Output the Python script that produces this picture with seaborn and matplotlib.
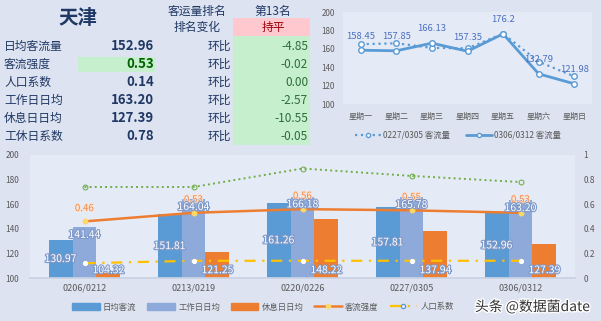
import matplotlib
matplotlib.use('Agg')
import matplotlib.pyplot as plt
import matplotlib.patheffects as pe
from matplotlib.lines import Line2D
from matplotlib.patches import Patch, Rectangle
import seaborn as sns
import pandas as pd
import numpy as np

sns.set_theme(style='white')
plt.rcParams['font.family'] = ['Noto Sans CJK SC', 'DejaVu Sans']
plt.rcParams['axes.unicode_minus'] = False

# ---------------- data ----------------
city = '天津'
table_labels = ['日均客流量', '客流强度', '人口系数', '工作日日均', '休息日日均', '工休日系数']
table_values = ['152.96', '0.53', '0.14', '163.20', '127.39', '0.78']
table_changes = ['-4.85', '-0.02', '0.00', '-2.57', '-10.55', '-0.05']
rank_title = '客运量排名'
rank_text = '第13名'
rank_change_title = '排名变化'
rank_change = '持平'
change_word = '环比'

weekdays = ['星期一', '星期二', '星期三', '星期四', '星期五', '星期六', '星期日']
prev_week = [165.0, 166.0, 161.0, 160.5, 176.5, 146.0, 130.0]
curr_week = [158.45, 157.85, 166.13, 157.35, 176.2, 132.79, 121.98]
week_series = ['0227/0305 客流量', '0306/0312 客流量']

periods = ['0206/0212', '0213/0219', '0220/0226', '0227/0305', '0306/0312']
daily_avg = [130.97, 151.81, 161.26, 157.81, 152.96]
workday_avg = [141.44, 164.04, 166.18, 165.78, 163.20]
restday_avg = [104.32, 121.25, 148.22, 137.94, 127.39]
intensity = [0.46, 0.53, 0.56, 0.55, 0.53]
population = [0.12, 0.14, 0.14, 0.14, 0.14]
work_rest = [0.74, 0.74, 0.89, 0.83, 0.78]
bar_names = ['日均客流', '工作日日均', '休息日日均']
line_names = ['客流强度', '人口系数']

# ---------------- figure ----------------
W, H = 601, 321
BG = '#dde3f0'
PLOT_BG = '#e5ebf6'
fig = plt.figure(figsize=(W / 100, H / 100), dpi=100, facecolor=BG)

def fx(px):
    return px / W

def fy(py):
    return 1 - py / H

def rect(x0, y0, x1, y1, color):
    fig.add_artist(Rectangle((fx(x0), fy(y1)), (x1 - x0) / W, (y1 - y0) / H,
                             transform=fig.transFigure, color=color, zorder=0, lw=0))

# ---------------- table (top-left) ----------------
NAVY = '#1f3864'
rect(233, 18, 310, 36, '#ffc7ce')
rect(233, 36, 310, 145, '#c6efce')
rect(78, 57, 155, 72, '#c6efce')

fig.text(fx(78), fy(19), city, fontsize=14, fontweight='bold', color=NAVY,
         ha='center', va='center')
fig.text(fx(197), fy(11), rank_title, fontsize=8.5, color=NAVY, ha='center', va='center')
fig.text(fx(197), fy(28), rank_change_title, fontsize=8.5, color=NAVY, ha='center', va='center')
fig.text(fx(273), fy(11), rank_text, fontsize=8.5, color=NAVY, ha='center', va='center')
fig.text(fx(273), fy(28), rank_change, fontsize=8.5, color='#9c0006', ha='center', va='center')

row_y = [46, 64, 82, 100, 118, 136]
for i, (lab, val, chg) in enumerate(zip(table_labels, table_values, table_changes)):
    y = fy(row_y[i])
    fig.text(fx(4), y, lab, fontsize=8.5, color=NAVY, ha='left', va='center')
    vcol = '#006100' if i == 1 else NAVY
    fig.text(fx(154), y, val, fontsize=9.5, fontweight='bold', color=vcol,
             ha='right', va='center')
    fig.text(fx(231), y, change_word, fontsize=8.5, color=NAVY, ha='right', va='center')
    fig.text(fx(308), y, chg, fontsize=8.5, color='#2f6b3a', ha='right', va='center')

# ---------------- weekly line chart (top-right) ----------------
BLUE = '#5b9bd5'
axw = fig.add_axes([fx(343), fy(104), (592 - 343) / W, (104 - 12) / H])
axw.set_facecolor(PLOT_BG)
sns.lineplot(x=weekdays, y=prev_week, ax=axw, color=BLUE, linestyle=':', linewidth=1.6,
             marker='o', markersize=4, markerfacecolor='white', markeredgecolor=BLUE,
             markeredgewidth=1, sort=False)
sns.lineplot(x=weekdays, y=curr_week, ax=axw, color=BLUE, linestyle='-', linewidth=2,
             marker='o', markersize=4, markerfacecolor='white', markeredgecolor=BLUE,
             markeredgewidth=1, sort=False)
for i, v in enumerate(curr_week):
    axw.annotate(f'{v:g}', (i, v), xytext=(0, 7), textcoords='offset points',
                 ha='center', va='bottom', fontsize=6.8, color='#4a6fbf')
axw.set_ylim(100, 200)
axw.set_yticks([100, 120, 140, 160, 180, 200])
axw.set_xlim(-0.5, 6.5)
axw.tick_params(axis='both', labelsize=5.8, colors='#595959', length=0, pad=6)
for s in axw.spines.values():
    s.set_visible(False)
axw.grid(False)
h_w = [Line2D([], [], color=BLUE, linestyle=':', lw=1.6, marker='o', markersize=3,
              markerfacecolor='white'),
       Line2D([], [], color=BLUE, linestyle='-', lw=2, marker='o', markersize=3,
              markerfacecolor='white')]
fig.legend(h_w, week_series, loc='center', bbox_to_anchor=(fx(458), fy(135)), ncol=2,
           frameon=False, fontsize=6, handlelength=3.2, columnspacing=1.8,
           labelcolor='#595959', handletextpad=0.2)

# ---------------- weekly period chart (bottom) ----------------
ORANGE = '#ed7d31'
LBLUE = '#8eaadb'
ax = fig.add_axes([fx(30), fy(278), (575 - 30) / W, (278 - 155) / H])
ax.set_facecolor(PLOT_BG)
df = pd.DataFrame({
    'period': periods * 3,
    'metric': [bar_names[0]] * 5 + [bar_names[1]] * 5 + [bar_names[2]] * 5,
    'value': daily_avg + workday_avg + restday_avg,
})
sns.barplot(data=df, x='period', y='value', hue='metric', hue_order=bar_names,
            palette=[BLUE, LBLUE, ORANGE], width=0.66, saturation=1, ax=ax,
            legend=False, gap=0, edgecolor='none', linewidth=0)
ax.set_ylim(100, 200)
ax.set_yticks([100, 120, 140, 160, 180, 200])
ax.set_xlim(-0.5, 4.5)
ax.set_xlabel('')
ax.set_ylabel('')
ax.tick_params(axis='y', labelsize=6, colors='#595959', length=0, pad=8)
ax.tick_params(axis='x', labelsize=6.5, colors='#595959', length=0, pad=4)
for s in ax.spines.values():
    s.set_visible(False)
ax.spines['bottom'].set_visible(True)
ax.spines['bottom'].set_color('#c9d2e3')
ax.grid(False)

ax2 = ax.twinx()
ax2.patch.set_visible(False)
xs = np.arange(len(periods))
sns.lineplot(x=xs, y=work_rest, ax=ax2, color='#70ad47', linestyle=':', linewidth=1.4,
             marker='o', markersize=3.5, markerfacecolor='none', markeredgecolor='#70ad47')
sns.lineplot(x=xs, y=intensity, ax=ax2, color=ORANGE, linestyle='-', linewidth=1.8,
             marker='o', markersize=3.5, markerfacecolor='#ffd966', markeredgecolor='#ffd966')
sns.lineplot(x=xs, y=population, ax=ax2, color='#ffc000', linewidth=1.6,
             dashes=False, linestyle=(0, (5, 3, 1, 3)),
             marker='o', markersize=3, markerfacecolor='white', markeredgecolor='white')
ax2.set_ylim(0, 1)
ax2.set_yticks([0, 0.2, 0.4, 0.6, 0.8, 1])
ax2.set_yticklabels(['0', '0.2', '0.4', '0.6', '0.8', '1'])
ax2.tick_params(axis='y', labelsize=6, colors='#595959', length=0, pad=6)
for s in ax2.spines.values():
    s.set_visible(False)
ax2.grid(False)

stroke = [pe.withStroke(linewidth=1.6, foreground='#7d98c8')]
for k, cont in enumerate(ax.containers):
    for bar in cont:
        xc = bar.get_x() + bar.get_width() / 2
        v = bar.get_height()
        if k == 0:
            pos, off, va = (xc, (100 + v) / 2), (0, 0), 'center'
        elif k == 1:
            pos, off, va = (xc, v), (0, -2), 'top'
        else:
            pos, off, va = (xc, 100), (0, 2), 'bottom'
        ax2.annotate(f'{v:.2f}', pos, xycoords=ax.transData, xytext=off,
                     textcoords='offset points', ha='center', va=va, fontsize=7.5,
                     color='white', path_effects=stroke, zorder=10)
for i, v in enumerate(intensity):
    ax2.annotate(f'{v:.2f}', (i, v), xytext=(0, 6), textcoords='offset points',
                 ha='center', va='bottom', fontsize=7, color='#f08a4b', zorder=9,
                 path_effects=[pe.withStroke(linewidth=1.2, foreground='#fbe2d2')])

h_b = [Patch(color=BLUE), Patch(color=LBLUE), Patch(color=ORANGE),
       Line2D([], [], color=ORANGE, lw=1.8, marker='o', markersize=3,
              markerfacecolor='#ffd966', markeredgecolor='#ffd966'),
       Line2D([], [], color='#ffc000', lw=1.6, linestyle=(0, (5, 3, 1, 3)), marker='o',
              markersize=3, markerfacecolor='white', markeredgecolor='#5b9bd5')]
fig.legend(h_b, bar_names + line_names, loc='center', bbox_to_anchor=(fx(263), fy(307)),
           ncol=5, frameon=False, fontsize=6, handlelength=3.3, handleheight=0.8,
           columnspacing=1.3, labelcolor='#595959', handletextpad=0.4)

fig.text(fx(590), fy(307), '头条 @数据菌date', fontsize=10, color='#333333',
         ha='right', va='center',
         path_effects=[pe.withStroke(linewidth=2, foreground='white')])

fig.savefig('out.png', dpi=100, facecolor=BG)
